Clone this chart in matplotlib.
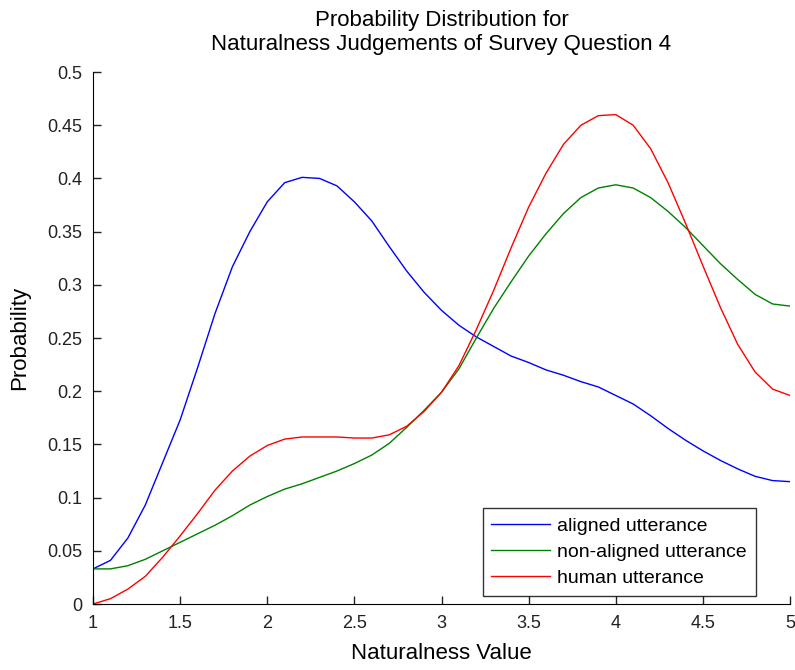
import numpy as np
import matplotlib
matplotlib.use('Agg')
import matplotlib.pyplot as plt

plt.rcParams['font.family'] = ['Liberation Sans', 'DejaVu Sans']

## Naturalness judgements, survey question 4 ##
naturalness = np.round(np.arange(1.0, 5.01, 0.1), 1)

aligned = [0.033, 0.041, 0.062, 0.093, 0.133, 0.173, 0.222, 0.273, 0.317, 0.350,
           0.378, 0.396, 0.401, 0.400, 0.393, 0.378, 0.360, 0.336, 0.313, 0.293,
           0.276, 0.262, 0.251, 0.242, 0.233, 0.227, 0.220, 0.215, 0.209, 0.204,
           0.196, 0.188, 0.177, 0.165, 0.154, 0.144, 0.135, 0.127, 0.120, 0.116,
           0.115]
non_aligned = [0.033, 0.033, 0.036, 0.042, 0.050, 0.058, 0.066, 0.074, 0.083, 0.093,
               0.101, 0.108, 0.113, 0.119, 0.125, 0.132, 0.140, 0.151, 0.166, 0.182,
               0.199, 0.221, 0.250, 0.278, 0.303, 0.327, 0.348, 0.367, 0.382, 0.391,
               0.394, 0.391, 0.382, 0.369, 0.354, 0.337, 0.320, 0.305, 0.291, 0.282,
               0.280]
human = [0.000, 0.005, 0.014, 0.026, 0.044, 0.064, 0.085, 0.107, 0.125, 0.139,
         0.149, 0.155, 0.157, 0.157, 0.157, 0.156, 0.156, 0.159, 0.167, 0.181,
         0.199, 0.224, 0.258, 0.295, 0.335, 0.373, 0.405, 0.432, 0.450, 0.459,
         0.460, 0.450, 0.428, 0.396, 0.358, 0.318, 0.279, 0.244, 0.218, 0.202,
         0.196]

x_ticks = [1, 1.5, 2, 2.5, 3, 3.5, 4, 4.5, 5]
x_tick_labels = ['1', '1.5', '2', '2.5', '3', '3.5', '4', '4.5', '5']
y_ticks = [0, 0.05, 0.1, 0.15, 0.2, 0.25, 0.3, 0.35, 0.4, 0.45, 0.5]
y_tick_labels = ['0', '0.05', '0.1', '0.15', '0.2', '0.25', '0.3', '0.35', '0.4', '0.45', '0.5']

fig = plt.figure(figsize=(7.95, 6.7), dpi=100)
ax = fig.add_axes([0.117, 0.0985, 0.8767, 0.794])

ax.plot(naturalness, aligned, color=(0, 0, 1), linewidth=1, label='aligned utterance')
ax.plot(naturalness, non_aligned, color=(0, 0.5, 0), linewidth=1, label='non-aligned utterance')
ax.plot(naturalness, human, color=(1, 0, 0), linewidth=1, label='human utterance')

ax.set_xlim(1, 5)
ax.set_ylim(0, 0.5)
ax.set_xticks(x_ticks)
ax.set_xticklabels(x_tick_labels)
ax.set_yticks(y_ticks)
ax.set_yticklabels(y_tick_labels)

# matlab look: box off, ticks pointing in
ax.spines['top'].set_visible(False)
ax.spines['right'].set_visible(False)
ax.tick_params(direction='in', length=6, width=1, labelsize=13, pad=8, colors='#222222')

ax.set_title('Probability Distribution for\nNaturalness Judgements of Survey Question 4',
             fontsize=16, pad=16, linespacing=1.15)
ax.set_xlabel('Naturalness Value', fontsize=16, labelpad=8)
ax.set_ylabel('Probability', fontsize=16, labelpad=12)

leg = ax.legend(loc='lower right', bbox_to_anchor=(0.951, 0.015), fontsize=14,
                frameon=True, fancybox=False, borderaxespad=0, handlelength=3.0,
                handletextpad=0.4, labelspacing=0.45, borderpad=0.45)
leg.get_frame().set_edgecolor('black')
leg.get_frame().set_linewidth(1)

plt.savefig('out.png', dpi=100)
